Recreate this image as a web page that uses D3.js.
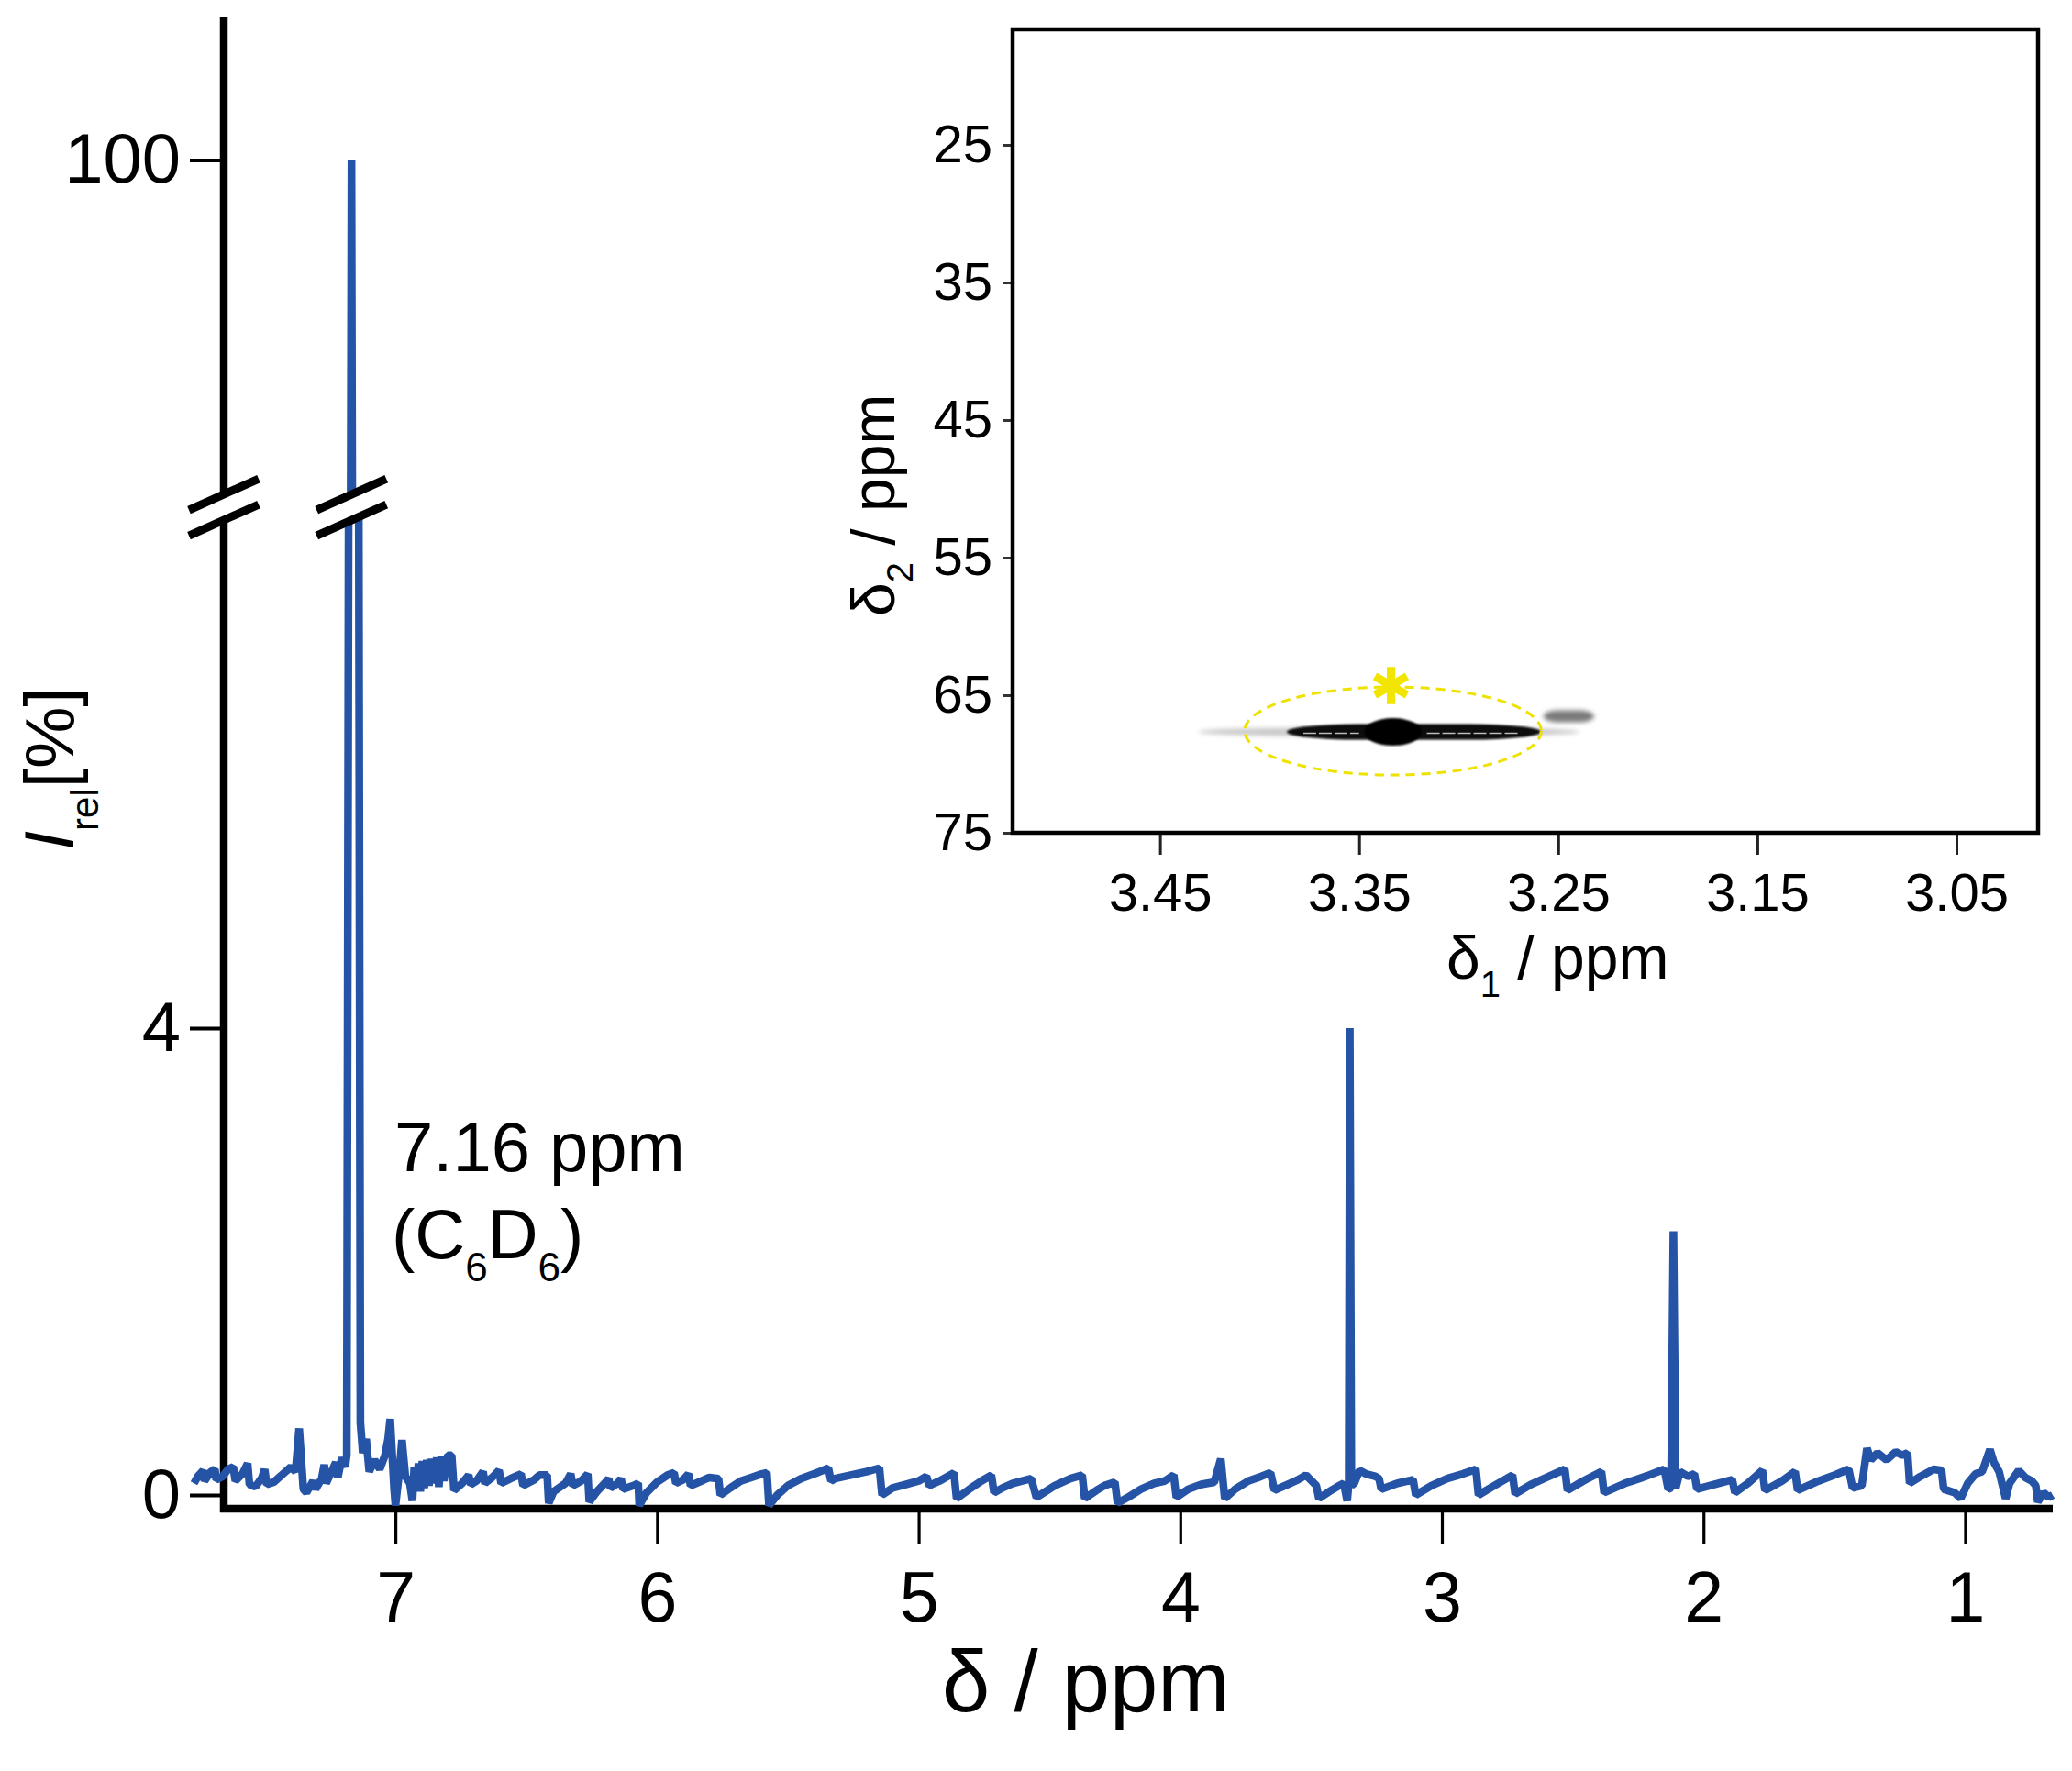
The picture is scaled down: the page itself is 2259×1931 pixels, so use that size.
<!DOCTYPE html>
<html><head><meta charset="utf-8">
<script src="https://cdn.jsdelivr.net/npm/d3@7"></script>
<style>
body{margin:0;background:#fff}
svg{display:block}
text{font-family:"Liberation Sans",Arial,Helvetica,sans-serif;fill:#000}
</style>
</head><body>
<svg id="chart" width="2259" height="1931"></svg>
<script>
// ---------------- DATA ----------------
// 1H spectrum (chemical shift in ppm, relative intensity in %)
const specPpm = [
7.770,7.755,7.735,7.730,7.705,7.690,7.685,7.660,7.640,7.620,7.612,7.585,7.565,7.558,7.535,7.510,7.500,7.492,7.465,7.430,
7.400,7.382,7.368,7.352,7.340,7.315,7.305,7.282,7.272,7.265,7.240,7.228,7.220,7.205,7.192,7.186,
7.179,7.171,7.168,7.165,7.140,
7.134,7.125,7.112,7.100,7.080,7.060,7.040,7.028,7.020,7.005,7.000,6.985,6.975,6.962,6.945,6.935,
6.928,6.920,6.912,6.905,6.897,6.890,6.880,6.872,6.862,6.853,6.842,6.834,6.825,6.815,6.800,6.785,
6.776,6.745,6.720,6.712,6.690,6.665,6.658,6.630,6.604,6.596,6.560,6.520,6.512,6.470,6.450,6.420,6.414,
6.395,6.350,6.330,6.322,6.290,6.265,6.259,6.230,6.200,6.185,6.178,6.150,6.138,6.130,6.090,6.072,6.068,
6.040,6.000,5.960,5.935,5.928,5.900,5.880,5.872,5.830,5.800,5.765,5.758,5.720,5.680,5.640,5.600,5.580,5.572,
5.540,5.500,5.450,5.400,5.345,5.335,5.320,5.260,5.200,5.150,5.140,5.100,5.050,5.000,4.970,4.960,4.920,4.865,4.855,
4.800,4.760,4.722,4.712,4.680,4.640,4.570,4.550,4.480,4.420,4.375,4.365,4.320,4.290,4.250,4.240,4.200,4.150,4.100,
4.060,4.025,4.015,3.970,3.920,3.870,3.845,3.830,3.790,3.740,3.690,3.655,3.640,3.590,3.550,3.520,3.480,3.470,3.430,
3.400,3.375,3.362,3.356,3.352,3.346,3.335,3.315,3.290,3.255,3.240,3.232,3.170,3.110,3.100,3.040,2.980,2.920,2.870,
2.860,2.800,2.730,2.720,2.660,2.600,2.530,2.520,2.460,2.390,2.380,2.300,2.220,2.150,2.135,2.124,2.115,2.106,2.090,
2.060,2.035,2.025,1.960,1.890,1.880,1.830,1.775,1.765,1.700,1.650,1.640,1.560,1.500,1.445,1.430,1.395,1.375,1.360,
1.335,1.300,1.265,1.240,1.220,1.212,1.170,1.120,1.090,1.082,1.040,1.017,0.990,0.960,0.935,0.905,0.890,0.870,0.845,
0.830,0.795,0.770,0.745,0.730,0.722,0.700,0.680,0.665
];
const specInt = [
0.10,0.16,0.21,0.12,0.20,0.22,0.13,0.16,0.22,0.24,0.12,0.18,0.27,0.09,0.07,0.15,0.22,0.09,0.11,0.18,
0.24,0.20,0.57,0.05,0.02,0.12,0.05,0.14,0.26,0.10,0.22,0.28,0.15,0.32,0.24,0.34,
8.40,90,100,90,8.40,
0.62,0.36,0.48,0.20,0.30,0.22,0.34,0.48,0.65,0.05,-0.09,0.20,0.47,0.16,0.10,-0.05,
0.24,0.05,0.27,0.03,0.29,0.06,0.30,0.08,0.31,0.10,0.32,0.07,0.33,0.12,0.34,0.34,
0.04,0.10,0.17,0.09,0.12,0.20,0.10,0.15,0.21,0.10,0.14,0.18,0.08,0.13,0.17,0.17,-0.07,
0.03,0.10,0.18,0.08,0.12,0.18,-0.06,0.03,0.10,0.14,0.06,0.10,0.14,0.05,0.08,0.10,-0.09,
0.02,0.11,0.17,0.19,0.10,0.13,0.18,0.08,0.12,0.15,0.14,0.00,0.06,0.12,0.15,0.18,0.19,-0.09,
0.00,0.08,0.14,0.18,0.23,0.12,0.14,0.17,0.20,0.23,0.00,0.06,0.09,0.12,0.16,0.08,0.12,0.19,-0.03,
0.06,0.12,0.17,0.02,0.06,0.10,0.14,-0.02,0.08,0.14,0.17,-0.03,0.04,0.08,0.11,-0.07,-0.02,0.05,0.10,
0.12,0.17,-0.02,0.05,0.09,0.11,0.31,-0.03,0.05,0.12,0.16,0.19,0.04,0.09,0.13,0.17,0.08,-0.03,0.03,
0.07,0.10,-0.05,0.10,4.00,0.08,0.10,0.21,0.18,0.16,0.14,0.05,0.10,0.13,0.00,0.08,0.14,0.18,0.22,
0.00,0.08,0.17,0.01,0.09,0.15,0.22,0.04,0.12,0.20,0.02,0.10,0.16,0.22,0.05,0.06,2.26,0.06,0.20,
0.16,0.18,0.05,0.09,0.13,0.02,0.10,0.21,0.04,0.12,0.20,0.04,0.12,0.17,0.22,0.06,0.08,0.40,0.30,
0.36,0.30,0.37,0.34,0.36,0.10,0.16,0.22,0.21,0.05,0.02,-0.03,0.10,0.18,0.20,0.39,0.28,0.20,-0.03,
0.10,0.21,0.15,0.12,0.08,-0.06,0.02,-0.02,0.00
];
const xTickValues = [7, 6, 5, 4, 3, 2, 1];
const yTicksLower = [0, 4];
const yTicksUpper = [100];
const solventLabel = "7.16 ppm";
const solventPeakPpm = 7.168;

// 2D inset (HSQC-type): delta1 (1H) / delta2 (13C)
const insetXTicks = [3.45, 3.35, 3.25, 3.15, 3.05];
const insetYTicks = [25, 35, 45, 55, 65, 75];
// cross-peak contour components: centre d1, centre d2, half-width d1, half-height d2, shade
const contourD1 = [3.335, 3.3225, 3.333, 3.2447];
const contourD2 = [67.67, 67.67, 67.67, 66.53];
const contourHalfW = [0.0957, 0.0638, 0.0145, 0.0127];
const contourHalfH = [0.30, 0.57, 1.00, 0.43];
const contourShade = ["#c9c9c9", "#0a0a0a", "#000000", "#7a7a7a"];
// marked region (ellipse) and asterisk
const markD1 = [3.333];
const markD2 = [67.6];
const markHalfW = [0.0745];
const markHalfH = [3.2];
const starD1 = [3.334];
const starD2 = [64.3];

// ---------------- DRAWING ----------------
const svg = d3.select("#chart");
const BLUE = "#2553a6";
const YELLOW = "#ede200";

// main scales
const x = d3.scaleLinear().domain([7.77, 0.665]).range([211.5, 2238]);
const lowerTop = 8.4, upperBottom = 90;
const yLow = d3.scaleLinear().domain([0, lowerTop]).range([1630, 1630 - lowerTop * 127.25]);
const yHigh = d3.scaleLinear().domain([upperBottom, 104.2]).range([545, 19]);
const yMap = v => (v <= lowerTop ? yLow(v) : yHigh(v));
const axisX = x(7.77) + 32.5;   // y axis position
const axisY = 1645;             // x axis line position
const breakY = (yLow(lowerTop) + yHigh(upperBottom)) / 2;

// ---- inset ----
const ix = d3.scaleLinear().domain([3.524, 3.009]).range([1104, 2222]);
const iy = d3.scaleLinear().domain([16.6, 75]).range([32, 908]);
const inset = svg.append("g");

const defs = svg.append("defs");
defs.append("filter").attr("id", "blur").attr("x", "-20%").attr("y", "-200%").attr("width", "140%").attr("height", "500%")
  .append("feGaussianBlur").attr("stdDeviation", 2.4);
defs.append("filter").attr("id", "blurS").attr("x", "-20%").attr("y", "-200%").attr("width", "140%").attr("height", "500%")
  .append("feGaussianBlur").attr("stdDeviation", 1.1);

// contours (rounded bars with tapered ends)
inset.append("g").selectAll("rect").data(contourD1).join("rect")
  .attr("x", (d, i) => ix(d + contourHalfW[i]))
  .attr("y", (d, i) => iy(contourD2[i] - contourHalfH[i]))
  .attr("width", (d, i) => ix(d - contourHalfW[i]) - ix(d + contourHalfW[i]))
  .attr("height", (d, i) => iy(contourD2[i] + contourHalfH[i]) - iy(contourD2[i] - contourHalfH[i]))
  .attr("rx", (d, i) => (ix(d - contourHalfW[i]) - ix(d + contourHalfW[i])) * (i === 2 ? 0.5 : 0.28))
  .attr("ry", (d, i) => (iy(contourD2[i] + contourHalfH[i]) - iy(contourD2[i] - contourHalfH[i])) / 2)
  .attr("fill", (d, i) => contourShade[i])
  .attr("filter", (d, i) => (i === 0 || i === 3) ? "url(#blur)" : "url(#blurS)");
// inner contour lines of the main cross peak
[[3.378, 3.350], [3.316, 3.270]].forEach(([a, b]) => {
  inset.append("line")
    .attr("x1", ix(a)).attr("x2", ix(b))
    .attr("y1", iy(contourD2[1]) + 1.5).attr("y2", iy(contourD2[1]) + 1.5)
    .attr("stroke", "#bbb").attr("stroke-width", 1.6).attr("stroke-dasharray", "14 3");
});

// dashed ellipse
inset.append("g").selectAll("ellipse").data(markD1).join("ellipse")
  .attr("cx", d => ix(d)).attr("cy", (d, i) => iy(markD2[i]))
  .attr("rx", (d, i) => Math.abs(ix(d + markHalfW[i]) - ix(d)))
  .attr("ry", (d, i) => iy(markD2[i] + markHalfH[i]) - iy(markD2[i]))
  .attr("fill", "none").attr("stroke", YELLOW).attr("stroke-width", 3)
  .attr("stroke-dasharray", "10 7");

// asterisk
inset.append("g").selectAll("path").data(starD1).join("path")
  .attr("transform", (d, i) => `translate(${ix(d)},${iy(starD2[i])})`)
  .attr("d", d3.symbol().type(d3.symbolAsterisk).size(1150))
  .attr("fill", "none").attr("stroke", "#f2e600").attr("stroke-width", 9);

// inset axes
const iMinorX = d3.range(3.51, 3.0, -0.02).map(v => +v.toFixed(2));
const iMinorY = d3.range(17, 75.5, 2);
const gix = inset.append("g").attr("transform", `translate(0,${iy(75)})`);
gix.call(d3.axisBottom(ix).tickValues(iMinorX).tickSize(11).tickFormat(""));
gix.call(d3.axisBottom(ix).tickValues(insetXTicks).tickSize(24).tickPadding(20).tickFormat(d3.format(".2f")));
gix.selectAll(".domain").remove();
gix.selectAll("line").attr("stroke", "#222").attr("stroke-width", 3);
gix.selectAll("text").attr("font-size", 58).attr("font-family", "Liberation Sans, Arial, sans-serif");

const giy = inset.append("g").attr("transform", `translate(${ix(3.524)},0)`);
giy.call(d3.axisLeft(iy).tickValues(iMinorY).tickSize(11).tickFormat(""));
giy.call(d3.axisLeft(iy).tickValues(insetYTicks).tickSize(11).tickPadding(11));
giy.selectAll(".domain").remove();
giy.selectAll("line").attr("stroke", "#333").attr("stroke-width", 3);
giy.selectAll("text").attr("font-size", 58).attr("font-family", "Liberation Sans, Arial, sans-serif");

inset.append("rect")
  .attr("x", ix(3.524)).attr("y", iy(16.6))
  .attr("width", ix(3.009) - ix(3.524)).attr("height", iy(75) - iy(16.6))
  .attr("fill", "none").attr("stroke", "#000").attr("stroke-width", 4.5);

// inset axis titles
const it1 = inset.append("text").attr("x", 1577).attr("y", 1067).attr("font-size", 66);
it1.append("tspan").text("δ");
it1.append("tspan").attr("font-size", 40).attr("dy", 20).text("1");
it1.append("tspan").attr("dy", -20).text(" / ppm");

const it2 = inset.append("text").attr("transform", "translate(975,672) rotate(-90)").attr("font-size", 66);
it2.append("tspan").text("δ");
it2.append("tspan").attr("font-size", 40).attr("dy", 20).text("2");
it2.append("tspan").attr("dy", -20).text(" / ppm");

// ---- main axes ----
const main = svg.append("g");
const minorX = d3.range(7.6, 0.7, -0.2).map(v => +v.toFixed(1)).filter(v => Math.abs(v - Math.round(v)) > 0.01);
const gx = main.append("g").attr("transform", `translate(0,${axisY})`);
gx.call(d3.axisBottom(x).tickValues(minorX).tickSize(15).tickFormat(""));
gx.call(d3.axisBottom(x).tickValues(xTickValues).tickSize(38).tickPadding(30).tickFormat(d3.format("d")));
gx.selectAll(".domain").remove();
gx.selectAll("line").attr("stroke", "#000").attr("stroke-width", 3.2);
gx.selectAll("text").attr("font-size", 77).attr("font-family", "Liberation Sans, Arial, sans-serif");

const gyL = main.append("g").attr("transform", `translate(${axisX},0)`);
gyL.call(d3.axisLeft(yLow).tickValues(yTicksLower).tickSize(37).tickPadding(10));
const gyU = main.append("g").attr("transform", `translate(${axisX},0)`);
gyU.call(d3.axisLeft(yHigh).tickValues(yTicksUpper).tickSize(37).tickPadding(10));
[gyL, gyU].forEach(g => {
  g.selectAll(".domain").remove();
  g.selectAll("line").attr("stroke", "#000").attr("stroke-width", 4);
  g.selectAll("text").attr("font-size", 76).attr("font-family", "Liberation Sans, Arial, sans-serif");
});

// axis lines
main.append("line").attr("x1", axisX).attr("x2", axisX).attr("y1", yHigh(104.2)).attr("y2", axisY + 4)
  .attr("stroke", "#000").attr("stroke-width", 8.5);
main.append("line").attr("x1", axisX - 4).attr("x2", x(0.665)).attr("y1", axisY).attr("y2", axisY)
  .attr("stroke", "#000").attr("stroke-width", 8.5);

// ---- spectrum ----
const lineGen = d3.line().x(d => x(d[0])).y(d => yMap(d[1]));
const specData = specPpm.map((p, i) => [p, specInt[i]]);
main.append("path").datum(specData)
  .attr("d", lineGen)
  .attr("fill", "none").attr("stroke", BLUE).attr("stroke-width", 8.5)
  .attr("stroke-linejoin", "bevel");

// ---- axis break marks ----
function drawBreak(cx, cy) {
  const hx = 38, hy = 17, off = 14;
  const a1 = [cx - hx, cy - off + hy], a2 = [cx + hx, cy - off - hy];
  const b1 = [cx - hx, cy + off + hy], b2 = [cx + hx, cy + off - hy];
  main.append("polygon").attr("points", [a1, a2, b2, b1].map(p => p.join(",")).join(" ")).attr("fill", "#fff");
  [[a1, a2], [b1, b2]].forEach(([p, q]) => {
    main.append("line").attr("x1", p[0]).attr("y1", p[1]).attr("x2", q[0]).attr("y2", q[1])
      .attr("stroke", "#000").attr("stroke-width", 9);
  });
}
drawBreak(axisX, breakY);
drawBreak(x(solventPeakPpm), breakY);

// ---- texts ----
main.append("text").attr("x", 1027).attr("y", 1866).attr("font-size", 94).text("δ / ppm");

const yt = main.append("text").attr("transform", "translate(80,927) rotate(-90)").attr("font-size", 76);
yt.append("tspan").attr("font-style", "italic").text("I");
yt.append("tspan").attr("font-size", 42).attr("dy", 27).text("rel");
yt.append("tspan").attr("dy", -27).text("[%]");

main.append("text").attr("x", 430).attr("y", 1277).attr("font-size", 76).text(solventLabel);
const sl = main.append("text").attr("x", 427).attr("y", 1372).attr("font-size", 76);
sl.append("tspan").text("(C");
sl.append("tspan").attr("font-size", 44).attr("dy", 25).text("6");
sl.append("tspan").attr("dy", -25).text("D");
sl.append("tspan").attr("font-size", 44).attr("dy", 25).text("6");
sl.append("tspan").attr("dy", -25).text(")");
</script>
</body></html>
